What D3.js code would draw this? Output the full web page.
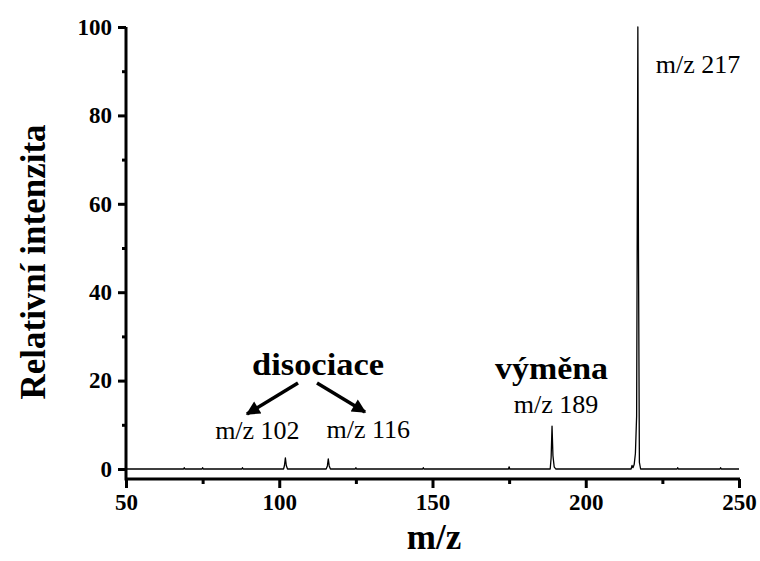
<!DOCTYPE html>
<html>
<head>
<meta charset="utf-8">
<script src="https://cdn.jsdelivr.net/npm/d3@7"></script>
<style>
  body { margin: 0; background: #fff; }
  svg text { font-family: "Liberation Serif", "Times New Roman", serif; fill: #000; }
</style>
</head>
<body>
<svg id="chart" width="760" height="561"></svg>
<script>
// m/z values and relative intensity of the spectrum trace
const mzValues = [50, 68.8, 69, 69.2, 74.8, 75, 75.2, 87.8, 88, 88.2,
  101.4, 101.7, 102, 102.3, 102.7,
  115.3, 115.7, 116, 116.3, 116.7,
  124.8, 125, 125.2, 146.8, 147, 147.2, 174.8, 175, 175.2,
  188.4, 188.7, 189, 189.3, 189.7, 190.2,
  214.8, 215.1, 215.4, 215.8, 216.2, 216.6, 216.8, 217, 217.2, 217.5, 217.9,
  229.8, 230, 230.2, 243.8, 244, 244.2, 250];
const intensity = [0, 0, 0.3, 0, 0, 0.3, 0, 0, 0.3, 0,
  0, 0.8, 2.5, 0.8, 0,
  0, 0.7, 2.3, 0.7, 0,
  0, 0.3, 0, 0, 0.3, 0, 0, 0.5, 0,
  0, 2.5, 9.7, 3, 0.5, 0,
  0, 0.8, 0.3, 1, 3.5, 12, 55, 100, 50, 1.5, 0,
  0, 0.3, 0, 0, 0.3, 0, 0];

const xTicks = [50, 100, 150, 200, 250];
const xMinorTicks = [75, 125, 175, 225];
const yTicks = [0, 20, 40, 60, 80, 100];
const yMinorTicks = [10, 30, 50, 70, 90];

const peakLabelTexts = ["m/z 217", "m/z 189", "m/z 102", "m/z 116"];
const peakLabelMz = [217, 189, 102, 116];

const svg = d3.select("#chart");
const x = d3.scaleLinear().domain([50, 250]).range([126, 739]);
const y = d3.scaleLinear().domain([0, 100]).range([469, 27]);
const axisY = 479;

// Axes lines
svg.append("line").attr("x1", 126).attr("x2", 126).attr("y1", 27).attr("y2", axisY + 1.5)
  .attr("stroke", "#000").attr("stroke-width", 3);
svg.append("line").attr("x1", 126).attr("x2", 740).attr("y1", axisY).attr("y2", axisY)
  .attr("stroke", "#000").attr("stroke-width", 3);

// X ticks
const xAxis = d3.axisBottom(x).tickValues(xTicks).tickSize(9).tickPadding(6).tickFormat(d3.format("d"));
const gx = svg.append("g").attr("transform", `translate(0,${axisY})`).call(xAxis);
gx.select(".domain").remove();
gx.selectAll(".tick line").attr("stroke-width", 3);
gx.selectAll(".tick text").attr("font-size", 23).attr("font-weight", "bold")
  .attr("font-family", "Liberation Serif, serif").attr("fill", "#000");
const xAxisMinor = d3.axisBottom(x).tickValues(xMinorTicks).tickSize(5).tickFormat("");
const gxm = svg.append("g").attr("transform", `translate(0,${axisY})`).call(xAxisMinor);
gxm.select(".domain").remove();
gxm.selectAll(".tick line").attr("stroke-width", 3);

// Y ticks
const yAxis = d3.axisLeft(y).tickValues(yTicks).tickSize(8).tickPadding(6).tickFormat(d3.format("d"));
const gy = svg.append("g").attr("transform", "translate(126,0)").call(yAxis);
gy.select(".domain").remove();
gy.selectAll(".tick line").attr("stroke-width", 3);
gy.selectAll(".tick text").attr("font-size", 23).attr("font-weight", "bold")
  .attr("font-family", "Liberation Serif, serif").attr("fill", "#000");
const yAxisMinor = d3.axisLeft(y).tickValues(yMinorTicks).tickSize(4).tickFormat("");
const gym = svg.append("g").attr("transform", "translate(126,0)").call(yAxisMinor);
gym.select(".domain").remove();
gym.selectAll(".tick line").attr("stroke-width", 3);

// Spectrum
const pts = mzValues.map((m, i) => [m, intensity[i]]);
const line = d3.line().x(d => x(d[0])).y(d => y(d[1]));
svg.append("path").datum(pts).attr("d", line)
  .attr("fill", "none").attr("stroke", "#000").attr("stroke-width", 1.3)
  .attr("stroke-linejoin", "round");

// Axis titles
svg.append("text").attr("x", 434).attr("y", 549).attr("text-anchor", "middle")
  .attr("font-size", 35).attr("font-weight", "bold").text("m/z");
svg.append("text").attr("transform", "translate(45,262) rotate(-90)").attr("text-anchor", "middle")
  .attr("font-size", 35).attr("font-weight", "bold").text("Relativní intenzita");

// Peak labels (offsets relative to peak position)
const labelPos = [
  {dx: 18, y: 73, anchor: "start"},
  {dx: 4, y: 413, anchor: "middle"},
  {dx: -28, y: 439, anchor: "middle"},
  {dx: 40, y: 438, anchor: "middle"}
];
svg.selectAll(".plabel").data(peakLabelTexts).enter().append("text")
  .attr("class", "plabel")
  .attr("x", (d, i) => x(peakLabelMz[i]) + labelPos[i].dx)
  .attr("y", (d, i) => labelPos[i].y)
  .attr("text-anchor", (d, i) => labelPos[i].anchor)
  .attr("font-size", 26).text(d => d);

// Annotations
svg.append("text").attr("x", 252).attr("y", 375)
  .attr("font-size", 31).attr("font-weight", "bold")
  .attr("textLength", 132).attr("lengthAdjust", "spacingAndGlyphs").text("disociace");
svg.append("text").attr("x", 495).attr("y", 379)
  .attr("font-size", 31).attr("font-weight", "bold")
  .attr("textLength", 113).attr("lengthAdjust", "spacingAndGlyphs").text("výměna");

// Arrows
const defs = svg.append("defs");
defs.append("marker").attr("id", "ah").attr("viewBox", "0 0 10 10")
  .attr("refX", 9).attr("refY", 5).attr("markerWidth", 5).attr("markerHeight", 4)
  .attr("markerUnits", "strokeWidth").attr("orient", "auto")
  .append("path").attr("d", "M0,0 L10,5 L0,10 z").attr("fill", "#000");
const arrows = [[298, 383, 247, 414], [317, 383, 365, 412]];
svg.selectAll(".arr").data(arrows).enter().append("line")
  .attr("x1", d => d[0]).attr("y1", d => d[1]).attr("x2", d => d[2]).attr("y2", d => d[3])
  .attr("stroke", "#000").attr("stroke-width", 3.5).attr("marker-end", "url(#ah)");
</script>
</body>
</html>
